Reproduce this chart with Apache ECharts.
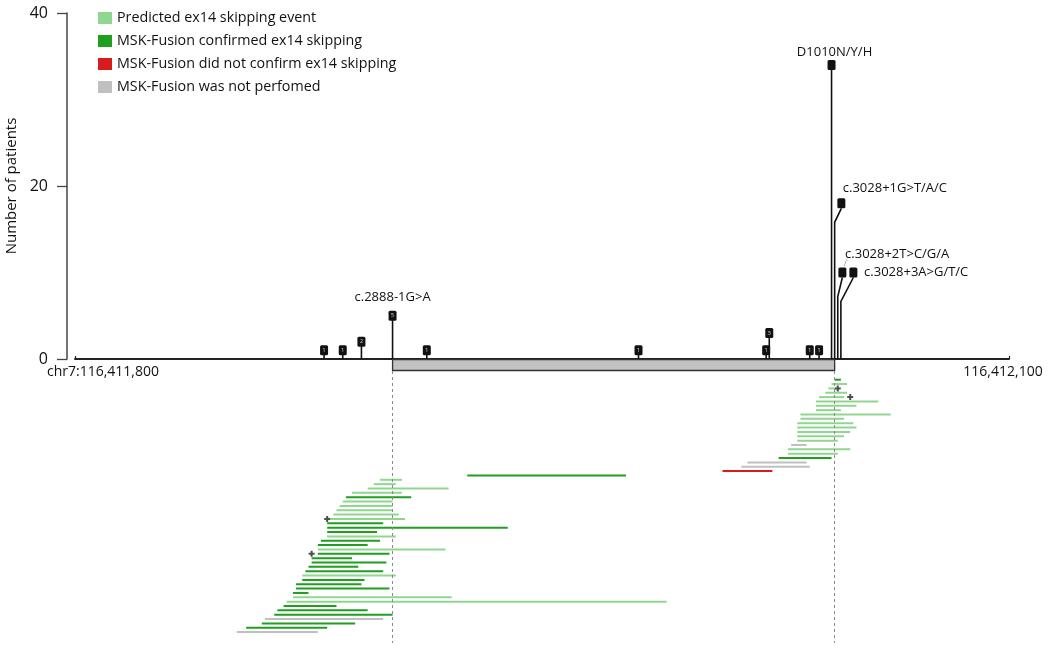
<!DOCTYPE html>
<html>
<head>
<meta charset="utf-8">
<script src="https://cdn.jsdelivr.net/npm/echarts@6.0.0/dist/echarts.min.js"></script>
<style>
  html, body { margin: 0; padding: 0; background: #fff; }
  #chart { width: 1050px; height: 649px; }
</style>
</head>
<body>
<div id="chart"></div>
<script>
// ---------- DATA ----------
const xMin = 116411800;
const xMax = 116412100;
const xTickLabels = ['chr7:116,411,800', '116,412,100'];
const yTickMax = 40;
const exonRange = [116411902, 116412044];

// lollipops (mutations): genomic position and number of patients
const mutPos   = [116411880, 116411886, 116411892, 116411902, 116411913, 116411981, 116412022, 116412023, 116412036, 116412039, 116412043, 116412044, 116412045, 116412046];
const mutCount = [1, 1, 2, 5, 1, 1, 1, 3, 1, 1, 34, 18, 10, 10];
const mutLabel = ['', '', '', 'c.2888-1G>A', '', '', '', '', '', '', 'D1010N/Y/H', 'c.3028+1G>T/A/C', 'c.3028+2T>C/G/A', 'c.3028+3A>G/T/C'];

// deletions: one row each, top to bottom
const segStart = [116412044, 116412043, 116412042, 116412041, 116412039, 116412038, 116412038, 116412038, 116412033, 116412033,
                  116412032, 116412032, 116412032, 116412032, 116412032, 116412030, 116412029, 116412029, 116412026, 116412016,
                  116412014, 116412008, 116411926, 116411898, 116411896, 116411894, 116411889, 116411887, 116411886, 116411885,
                  116411884, 116411883, 116411882, 116411881, 116411881, 116411881, 116411881, 116411879, 116411878, 116411878,
                  116411878, 116411876, 116411876, 116411875, 116411874, 116411873, 116411873, 116411871, 116411871, 116411870,
                  116411870, 116411868, 116411867, 116411865, 116411864, 116411861, 116411860, 116411855, 116411852];
const segEnd   = [116412046, 116412048, 116412044, 116412048, 116412047, 116412058, 116412051, 116412046, 116412062, 116412047,
                  116412050, 116412051, 116412049, 116412047, 116412045, 116412035, 116412049, 116412045, 116412043, 116412035,
                  116412036, 116412024, 116411977, 116411905, 116411903, 116411920, 116411905, 116411908, 116411902, 116411902,
                  116411902, 116411904, 116411906, 116411899, 116411939, 116411897, 116411903, 116411898, 116411894, 116411919,
                  116411901, 116411889, 116411900, 116411891, 116411899, 116411903, 116411893, 116411892, 116411901, 116411875,
                  116411921, 116411990, 116411884, 116411894, 116411902, 116411899, 116411890, 116411881, 116411878];
// P = predicted, C = confirmed, N = not confirmed, X = not performed
const segStatus = ['C','P','P','P','P','P','P','P','P','P',
                   'P','P','P','P','P','X','P','P','C','X',
                   'X','N','C','P','P','P','P','C','P','P',
                   'P','P','P','C','C','C','P','C','C','P',
                   'C','C','C','C','C','P','C','C','C','C',
                   'P','P','C','C','C','X','C','C','X'];
// extra "+" marks: [position, row]
const markPos = [116412045, 116412049, 116411881, 116411876];
const markRow = [2, 4, 32, 40];

const statusNames = {
  P: 'Predicted ex14 skipping event',
  C: 'MSK-Fusion confirmed ex14 skipping',
  N: 'MSK-Fusion did not confirm ex14 skipping',
  X: 'MSK-Fusion was not perfomed'
};
const statusColors = { P: '#8fd68f', C: '#1f9e1f', N: '#d81c1c', X: '#c0c0c0' };

// ---------- LAYOUT (pixels, styles only) ----------
const headLayout = {
  3:  { lx: 0,    ly: -18, align: 'center' },
  10: { lx: 3,    ly: -13, align: 'center' },
  11: { dx: 6.7,  bend: 19, lx: 1.4,  ly: -15, align: 'left' },
  12: { dx: 4.6,  bend: 24, lx: 2.7,  ly: -18, align: 'left', leader: true },
  13: { dx: 12.5, bend: 29, lx: 10.7, ly: 0,   align: 'left' }
};

const FONT = '"Open Sans", "Noto Sans", sans-serif';
const chart = echarts.init(document.getElementById('chart'), null, { renderer: 'canvas' });

const lolliData = mutPos.map((p, i) => [p, mutCount[i], i]);

function renderLolli(params, api) {
  const pos = api.value(0), cnt = api.value(1), idx = api.value(2);
  const base = api.coord([pos, 0]);
  const top = api.coord([pos, cnt]);
  const L = headLayout[idx] || {};
  const hx = base[0] + (L.dx || 0);
  const hy = top[1];
  const ch = [];
  if (L.dx) {
    ch.push({ type: 'polyline', shape: { points: [[base[0], base[1]], [base[0], hy + L.bend], [hx, hy + 5]] },
      style: { stroke: '#111', lineWidth: 1.6, fill: null } });
  } else {
    ch.push({ type: 'line', shape: { x1: base[0], y1: base[1], x2: base[0], y2: hy },
      style: { stroke: '#111', lineWidth: 1.6 } });
  }
  ch.push({ type: 'rect', shape: { x: hx - 4, y: hy - 5, width: 8, height: 10, r: 1.5 }, style: { fill: '#111' } });
  if (cnt < 10) {
    ch.push({ type: 'text', style: { x: hx, y: hy, text: String(cnt), fill: '#ccc', fontSize: 6,
      fontFamily: FONT, align: 'center', verticalAlign: 'middle' } });
  }
  if (mutLabel[idx]) {
    ch.push({ type: 'text', style: { x: hx + L.lx, y: hy + L.ly, text: mutLabel[idx], fill: '#111', fontSize: 13,
      fontFamily: FONT, align: L.align, verticalAlign: 'middle' } });
    if (L.leader) {
      ch.push({ type: 'line', shape: { x1: hx + 4.4, y1: hy - 13, x2: hx + 1.7, y2: hy - 6.3 },
        style: { stroke: '#999', lineWidth: 0.8 } });
    }
  }
  return { type: 'group', children: ch };
}

function renderExon(params, api) {
  const a = api.coord([api.value(0), 0]);
  const b = api.coord([api.value(1), 0]);
  return { type: 'rect', shape: { x: a[0], y: a[1] + 0.5, width: b[0] - a[0], height: 11 },
    style: { fill: '#c2c2c2', stroke: '#333', lineWidth: 1.3 } };
}

function renderSeg(params, api) {
  const a = api.coord([api.value(0), api.value(2)]);
  const b = api.coord([api.value(1), api.value(2)]);
  return { type: 'line', shape: { x1: a[0], y1: a[1], x2: b[0], y2: b[1] },
    style: { stroke: api.visual('color'), lineWidth: 2 } };
}

const segSeries = ['P', 'C', 'N', 'X'].map((code, k) => {
  const data = [];
  segStart.forEach((s, r) => { if (segStatus[r] === code) data.push([s, segEnd[r], r]); });
  const ser = {
    name: statusNames[code], type: 'custom', xAxisIndex: 1, yAxisIndex: 1,
    itemStyle: { color: statusColors[code] },
    encode: { x: [0, 1], y: 2 }, renderItem: renderSeg, data: data, silent: true
  };
  if (k === 0) {
    ser.markLine = {
      silent: true, symbol: 'none', label: { show: false },
      lineStyle: { color: '#8a8a8a', width: 1, type: [3, 3] },
      data: exonRange.map(v => ({ xAxis: v }))
    };
  }
  return ser;
});

const option = {
  animation: false,
  textStyle: { fontFamily: FONT },
  legend: {
    orient: 'vertical', left: 93, top: 5.5, itemWidth: 14, itemHeight: 12, itemGap: 8,
    icon: 'rect', selectedMode: false,
    data: ['P', 'C', 'N', 'X'].map(c => statusNames[c]),
    textStyle: { fontSize: 14.3, lineHeight: 15, color: '#111', fontFamily: FONT }
  },
  grid: [
    { left: 75, right: 41, top: 13, height: 346, outerBoundsMode: 'none', containLabel: false },
    { left: 75, right: 41, top: 371, height: 272, outerBoundsMode: 'none', containLabel: false }
  ],
  xAxis: [
    {
      type: 'value', gridIndex: 0, min: xMin, max: xMax, interval: 100,
      axisLine: { show: true, lineStyle: { color: '#222', width: 2 } },
      axisTick: { show: true, customValues: [xMin, xMax], inside: true, length: 3, lineStyle: { color: '#222', width: 1.2 } },
      splitLine: { show: false },
      axisLabel: {
        show: true, margin: 6, fontSize: 14, color: '#111', showMinLabel: true, showMaxLabel: true,
        customValues: [xMin, xMax],
        formatter: v => v === xMin ? '{l|' + xTickLabels[0] + '}' : (v === xMax ? '{r|' + xTickLabels[1] + '}' : ''),
        rich: {
          l: { fontSize: 14, color: '#111', fontFamily: FONT, padding: [0, 0, 0, 56] },
          r: { fontSize: 14, color: '#111', fontFamily: FONT, padding: [0, 12, 0, 0] }
        }
      }
    },
    { type: 'value', gridIndex: 1, min: xMin, max: xMax, show: false, splitLine: { show: false } }
  ],
  yAxis: [
    {
      type: 'value', gridIndex: 0, min: 0, max: yTickMax, interval: 20, offset: 8,
      name: 'Number of patients', nameLocation: 'middle', nameGap: 42, nameRotate: 90,
      nameTextStyle: { fontSize: 15, color: '#111', fontFamily: FONT },
      axisLine: { show: true, lineStyle: { color: '#444', width: 1.5 } },
      axisTick: { show: true, length: 10, lineStyle: { color: '#444', width: 1.3 } },
      axisLabel: { fontSize: 16, color: '#111', margin: 19 },
      splitLine: { show: false }
    },
    { type: 'value', gridIndex: 1, min: -2, max: 60.5, inverse: true, show: false, splitLine: { show: false } }
  ],
  series: [
    {
      type: 'custom', name: 'exon', xAxisIndex: 0, yAxisIndex: 0, silent: true,
      encode: { x: [0, 1] }, renderItem: renderExon, data: [[exonRange[0], exonRange[1]]], z: 1
    },
    {
      type: 'custom', name: 'mutations', xAxisIndex: 0, yAxisIndex: 0, silent: true,
      encode: { x: 0, y: 1 }, renderItem: renderLolli, data: lolliData, z: 3
    },
    ...segSeries,
    {
      type: 'scatter', name: 'marks', xAxisIndex: 1, yAxisIndex: 1, silent: true,
      symbol: 'path://M2,0h2v2h2v2h-2v2h-2v-2h-2v-2h2z', symbolSize: 6,
      itemStyle: { color: '#222' },
      data: markPos.map((p, i) => [p, markRow[i]]), z: 5
    }
  ]
};
chart.setOption(option);
</script>
</body>
</html>
